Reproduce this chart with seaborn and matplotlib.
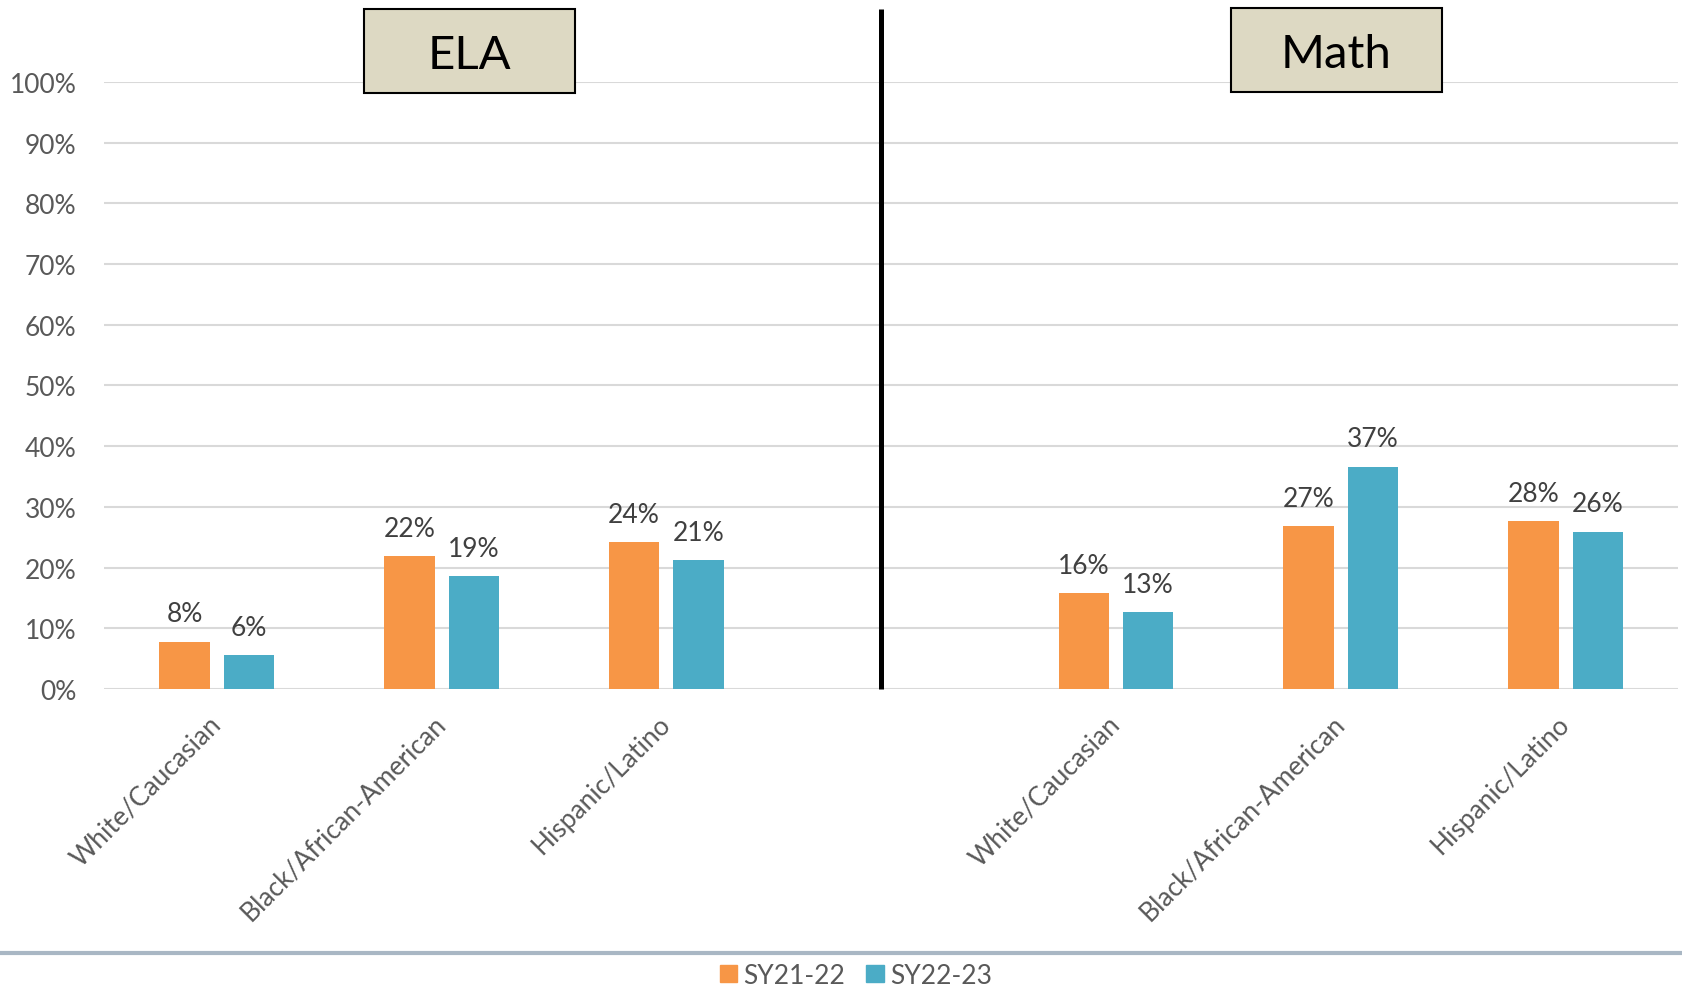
import matplotlib.pyplot as plt
import seaborn as sns
import pandas as pd
from matplotlib.patches import Rectangle
from matplotlib.lines import Line2D

# data
groups = ['White/Caucasian', 'Black/African-American', 'Hispanic/Latino']
ela_2122 = [0.078, 0.219, 0.242]
ela_2223 = [0.056, 0.186, 0.212]
math_2122 = [0.158, 0.268, 0.276]
math_2223 = [0.126, 0.366, 0.259]
years = ['SY21-22', 'SY22-23']
colors = ['#F79646', '#4BACC6']
subjects = ['ELA', 'Math']

rows = []
for subj, a, b in [('ELA', ela_2122, ela_2223), ('Math', math_2122, math_2223)]:
    for g, v1, v2 in zip(groups, a, b):
        rows.append({'cat': subj + ' ' + g, 'year': years[0], 'val': v1})
        rows.append({'cat': subj + ' ' + g, 'year': years[1], 'val': v2})
df = pd.DataFrame(rows)
order = ['ELA ' + g for g in groups] + ['gap'] + ['Math ' + g for g in groups]

sns.set_style('white')
plt.rcParams['font.family'] = ['Lato', 'DejaVu Sans']

fig = plt.figure(figsize=(16.83, 9.87), dpi=100)
ax = fig.add_axes([0.062, 0.301, 0.935, 0.615])

sns.barplot(data=df, x='cat', y='val', hue='year', order=order,
            palette=dict(zip(years, colors)), width=0.573, gap=0.217,
            saturation=1, linewidth=0, ax=ax)
ax.legend_.remove()

for c in ax.containers:
    ax.bar_label(c, fmt=lambda v: f'{v:.0%}', padding=11, fontsize=19, color='#404040')

ax.set_xlim(-0.5, 6.5)
ax.set_ylim(0, 1)
ticks = [i / 10 for i in range(11)]
ax.set_yticks(ticks)
ax.set_yticklabels([f'{int(round(t * 100))}%' for t in ticks])
ax.yaxis.grid(True, color='#D9D9D9', lw=1.5)
ax.set_axisbelow(True)
sns.despine(ax=ax, left=True, bottom=True)
ax.tick_params(length=0, labelsize=19, colors='#595959')
ax.tick_params(axis='y', pad=20)
ax.set_xticks(range(7))
ax.set_xticklabels(groups + [''] + groups, rotation=45, ha='right', va='center',
                   rotation_mode='anchor', fontsize=19)
ax.tick_params(axis='x', pad=22)
ax.set_xlabel('')
ax.set_ylabel('')

# divider between ELA and Math
ax.plot([2.957, 2.957], [0, 1.12], color='black', lw=3.6, clip_on=False,
        solid_capstyle='butt')

# subject boxes
for subj, left, bottom in [('ELA', 0.2163, 0.9043), ('Math', 0.7314, 0.9054)]:
    fig.add_artist(Rectangle((left, bottom), 0.1254, 0.0851, transform=fig.transFigure,
                             facecolor='#DDD9C3', edgecolor='black', lw=1.5))
    fig.text(left + 0.0627, bottom + 0.039, subj, ha='center', va='center',
             fontsize=34, color='black')

# bottom separator and legend
fig.add_artist(Line2D([0, 1], [0.0334, 0.0334], transform=fig.transFigure,
                      color='#A9B7C4', lw=3))
handles = [Rectangle((0, 0), 1, 1, color=c) for c in colors]
leg = fig.legend(handles, years, loc='center', bbox_to_anchor=(0.5086, 0.011), ncol=2,
                 frameon=False, fontsize=19, handlelength=0.65, handleheight=0.65,
                 handletextpad=0.25, columnspacing=0.8, borderpad=0)
for t in leg.get_texts():
    t.set_color('#595959')

fig.savefig('out.png', dpi=100)
